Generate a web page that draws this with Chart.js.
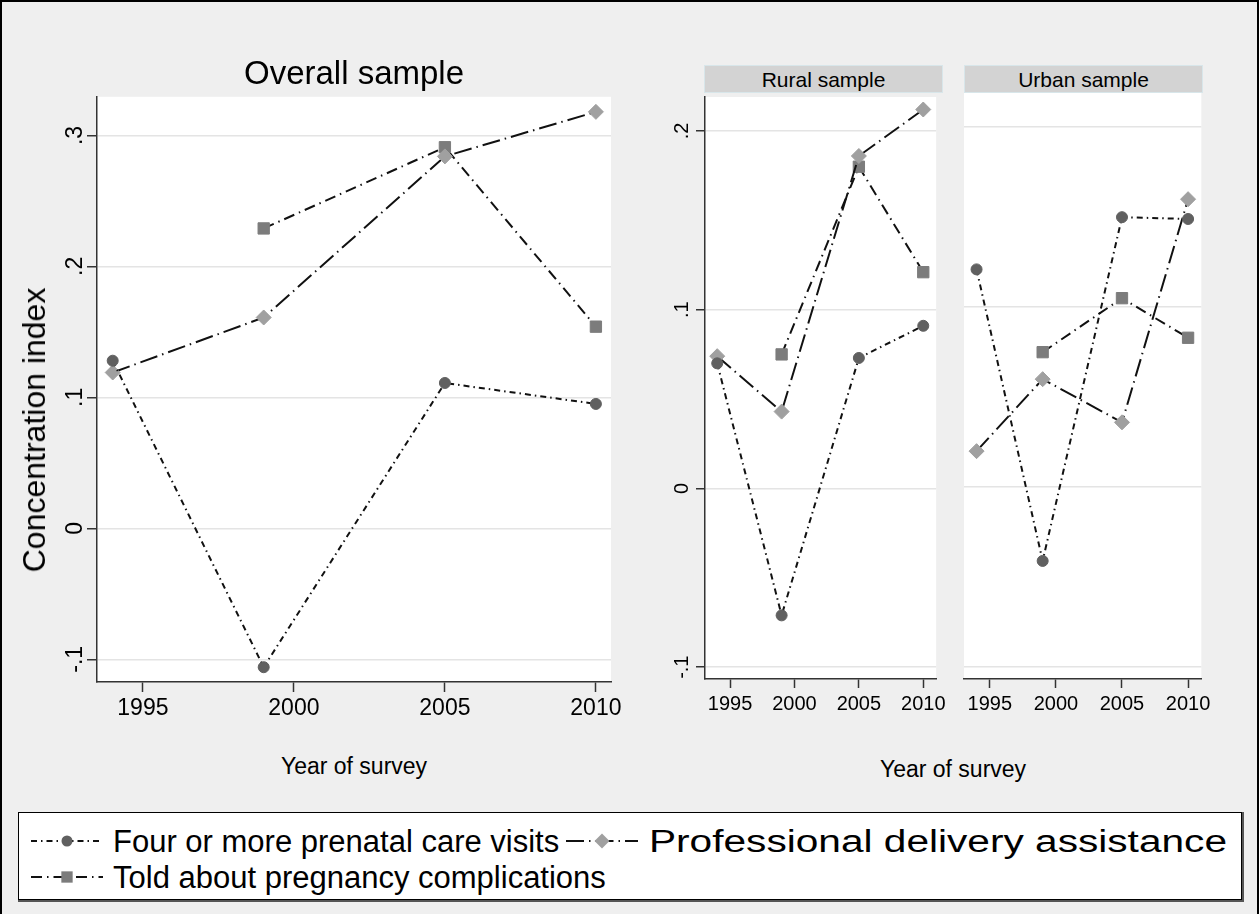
<!DOCTYPE html>
<html>
<head>
<meta charset="utf-8">
<script src="https://cdn.jsdelivr.net/npm/chart.js@4.4.1/dist/chart.umd.min.js"></script>
<style>
  body { margin: 0; background: #efefef; font-family: "Liberation Sans", Arial, sans-serif; }
  #page { position: relative; width: 1259px; height: 914px; overflow: hidden; background: #efefef; }
  #frame { position: absolute; left: 0; top: 0; width: 1255px; height: 940px; border: 2px solid #000; }
  canvas { position: absolute; }
  .txt { position: absolute; white-space: nowrap; color: #000; }
  .strip { position: absolute; box-sizing: border-box; background: #d3d3d3; border: 1px solid #d8e6ea;
           height: 28px; line-height: 28px; font-size: 21px; text-align: center; }
  #legend { position: absolute; left: 18px; top: 812px; width: 1222px; height: 86px; background: #fff;
            border: 1.5px solid #000; box-shadow: 1px 1px 0 1px #555; }
</style>
</head>
<body>
<div id="page">
  <div id="frame"></div>
  <canvas id="overall" width="625" height="650" style="left:0;top:85px"></canvas>
  <canvas id="rural" width="330" height="650" style="left:620px;top:83px"></canvas>
  <canvas id="urban" width="260" height="650" style="left:955px;top:83px"></canvas>
  <div class="strip" style="left:704px;top:65px;width:239px">Rural sample</div>
  <div class="strip" style="left:964px;top:65px;width:239px">Urban sample</div>
  <div id="legend"></div>
</div>
<script>
// 調査年
const years = [1994, 1999, 2005, 2010];

// 全体サンプル
const overallVisits = [0.128, -0.106, 0.111, 0.095];
const overallDelivery = [0.119, 0.161, 0.284, 0.318];
const overallTold = [null, 0.229, 0.291, 0.154];

// 農村サンプル
const ruralVisits = [0.070, -0.071, 0.073, 0.091];
const ruralDelivery = [0.074, 0.043, 0.186, 0.212];
const ruralTold = [null, 0.075, 0.180, 0.121];

// 都市サンプル
const urbanVisits = [0.121, -0.041, 0.150, 0.149];
const urbanDelivery = [0.020, 0.060, 0.036, 0.160];
const urbanTold = [null, 0.075, 0.105, 0.083];

// 目盛り
const xTicks = [1995, 2000, 2005, 2010];
const xTickLabels = ['1995', '2000', '2005', '2010'];
const yTicksOverall = [-0.1, 0, 0.1, 0.2, 0.3];
const yTickLabelsOverall = ['-.1', '0', '.1', '.2', '.3'];
const yTicksSub = [-0.1, 0, 0.1, 0.2];
const yTickLabelsSub = ['-.1', '0', '.1', '.2'];

const seriesNames = ['Four or more prenatal care visits', 'Professional delivery assistance', 'Told about pregnancy complications'];

// 線と点のスタイル
const styles = [
  { dash: [6, 4, 1.5, 4], point: 'circle', radius: 5.5, color: '#606060' },
  { dash: [18, 5, 1.5, 5], point: 'rectRot', radius: 7.5, color: '#a0a0a0' },
  { dash: [11, 5, 1.5, 5], point: 'rect', radius: 8, color: '#7c7c7c' },
];

const font = 'Liberation Sans';

function toPoints(vals) {
  const pts = [];
  for (let i = 0; i < years.length; i++) {
    if (vals[i] !== null) pts.push({ x: years[i], y: vals[i] });
  }
  return pts;
}

function makeDatasets(a, b, c) {
  return [a, b, c].map(function (vals, i) {
    const s = styles[i];
    return {
      label: seriesNames[i],
      data: toPoints(vals),
      borderColor: '#111',
      borderWidth: 2,
      borderDash: s.dash,
      pointStyle: s.point,
      pointRadius: s.radius,
      pointBackgroundColor: s.color,
      pointBorderColor: s.color,
      pointBorderWidth: 1,
      tension: 0,
      clip: false,
    };
  });
}

// グラフ作成
function makeChart(id, datasets, o) {
  return new Chart(document.getElementById(id), {
    type: 'line',
    data: { datasets: datasets },
    options: {
      responsive: false,
      animation: false,
      devicePixelRatio: 1,
      layout: { padding: o.padding },
      plugins: { legend: { display: false }, tooltip: { enabled: false } },
      scales: {
        x: {
          type: 'linear',
          min: o.xMin, max: o.xMax,
          afterBuildTicks: function (s) { s.ticks = xTicks.map(v => ({ value: v })); },
          afterFit: function (s) { s.height = o.xHeight; },
          ticks: {
            callback: (v, i) => xTickLabels[i],
            font: { family: font, size: o.xFont },
            color: '#000',
            padding: o.xPad,
            maxRotation: 0,
          },
          grid: { drawOnChartArea: false, drawTicks: true, tickLength: o.tick, tickColor: '#333', tickWidth: 1.5 },
          border: { display: true, color: '#333', width: 1.5 },
        },
        y: {
          type: 'linear',
          min: o.yMin, max: o.yMax,
          afterBuildTicks: function (s) { s.ticks = o.yTicks.map(v => ({ value: v })); },
          afterFit: function (s) { s.width = o.yWidth; },
          ticks: {
            display: o.yLabels,
            callback: (v, i) => o.yTickLabels[i],
            font: { family: font, size: o.yFont },
            color: '#000',
            padding: o.yPad,
            minRotation: 90, maxRotation: 90,
            crossAlign: 'center',
          },
          grid: { color: '#e4e4e4', lineWidth: 1.5, drawTicks: o.yLabels, tickLength: o.tick, tickColor: '#333', tickWidth: 1.5 },
          border: { display: o.yLabels, color: '#333', width: 1.5 },
        },
      },
    },
    plugins: [{
      id: 'plotbg',
      beforeDraw: function (chart) {
        const a = chart.chartArea;
        chart.ctx.save();
        chart.ctx.fillStyle = '#fff';
        chart.ctx.fillRect(a.left, a.top, a.right - a.left, a.bottom - a.top);
        chart.ctx.restore();
      }
    }],
  });
}

makeChart('overall', makeDatasets(overallVisits, overallDelivery, overallTold), {
  padding: { top: 10, right: 14, left: 0, bottom: 0 },
  xMin: 1993.48, xMax: 2010.5, yMin: -0.1173, yMax: 0.3295,
  xHeight: 53, yWidth: 97, xFont: 23, yFont: 23, xPad: 3, yPad: -2, tick: 10,
  yTicks: yTicksOverall, yTickLabels: yTickLabelsOverall, yLabels: true,
});

makeChart('rural', makeDatasets(ruralVisits, ruralDelivery, ruralTold), {
  padding: { top: 10, right: 7, left: 0, bottom: 0 },
  xMin: 1993.05, xMax: 2011, yMin: -0.1066, yMax: 0.219,
  xHeight: 54, yWidth: 85, xFont: 20, yFont: 20, xPad: 4, yPad: 2, tick: 9,
  yTicks: yTicksSub, yTickLabels: yTickLabelsSub, yLabels: true,
});

makeChart('urban', makeDatasets(urbanVisits, urbanDelivery, urbanTold), {
  padding: { top: 10, right: 12, left: 0, bottom: 0 },
  xMin: 1993.05, xMax: 2011, yMin: -0.1066, yMax: 0.219,
  xHeight: 54, yWidth: 9, xFont: 20, yFont: 20, xPad: 4, yPad: 2, tick: 9,
  yTicks: yTicksSub, yTickLabels: yTickLabelsSub, yLabels: false,
});

// テキスト（ベースライン位置で配置）
const page = document.getElementById('page');
function addText(str, cx, baseline, size, rotate) {
  const d = document.createElement('div');
  d.className = 'txt';
  d.textContent = str;
  d.style.fontSize = size + 'px';
  d.style.lineHeight = size + 'px';
  if (rotate) {
    d.style.left = cx + 'px';
    d.style.top = baseline + 'px';
    d.style.transform = 'translate(-50%,-50%) rotate(-90deg)';
  } else {
    d.style.left = cx + 'px';
    d.style.top = (baseline - 0.8465 * size) + 'px';
    d.style.transform = 'translateX(-50%)';
  }
  page.appendChild(d);
}
addText('Overall sample', 354, 84, 33);
addText('Year of survey', 354, 774, 23);
addText('Year of survey', 953, 777, 23);
addText('Concentration index', 34, 430, 32, true);

// 凡例
const legend = document.getElementById('legend');
function legendItem(i, left, top, textLeft, textWidth) {
  const c = document.createElement('canvas');
  c.width = 72; c.height = 24;
  c.style.left = left + 'px';
  c.style.top = top + 'px';
  legend.appendChild(c);
  const g = c.getContext('2d');
  const s = styles[i];
  g.strokeStyle = '#111';
  g.lineWidth = 2;
  g.setLineDash(s.dash);
  g.beginPath(); g.moveTo(0, 12); g.lineTo(72, 12); g.stroke();
  g.setLineDash([]);
  g.fillStyle = s.color;
  g.beginPath();
  if (s.point === 'circle') g.arc(36, 12, s.radius, 0, Math.PI * 2);
  else if (s.point === 'rectRot') { g.moveTo(36 - s.radius, 12); g.lineTo(36, 12 - s.radius); g.lineTo(36 + s.radius, 12); g.lineTo(36, 12 + s.radius); }
  else { const h = s.radius * Math.SQRT1_2; g.rect(36 - h, 12 - h, 2 * h, 2 * h); }
  g.fill();
  const t = document.createElement('div');
  t.className = 'txt';
  t.textContent = seriesNames[i];
  t.style.fontSize = '31px';
  t.style.lineHeight = '31px';
  t.style.left = textLeft + 'px';
  t.style.top = (top - 3) + 'px';
  legend.appendChild(t);
  if (textWidth) {
    const w = t.getBoundingClientRect().width;
    t.style.transformOrigin = '0 50%';
    t.style.transform = 'scaleX(' + (textWidth / w) + ')';
  }
}
legendItem(0, 12, 16, 94);
legendItem(1, 547, 16, 630, 578);
legendItem(2, 12, 52, 94);
</script>
</body>
</html>
